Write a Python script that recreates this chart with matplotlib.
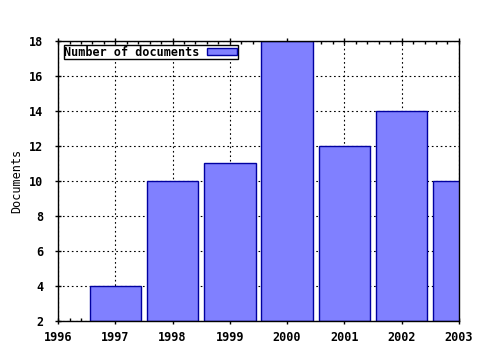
import matplotlib
matplotlib.use("Agg")
import matplotlib.pyplot as plt
from matplotlib.ticker import MultipleLocator

# data
years = [1997, 1998, 1999, 2000, 2001, 2002, 2003]
docs = [4, 10, 11, 18, 12, 14, 10]

plt.rcParams['font.family'] = 'DejaVu Sans Mono'
plt.rcParams['font.weight'] = 'bold'
plt.rcParams['font.size'] = 8.5

fig = plt.figure(figsize=(4.8, 3.5), dpi=100)
ax = fig.add_axes([0.121, 0.083, 0.835, 0.8])

ax.bar(years, [d - 2 for d in docs], bottom=2, width=0.9,
       color="#8080ff", edgecolor="#0000a0", linewidth=1.0,
       label="Number of documents", zorder=3)

ax.set_xlim(1996, 2003)
ax.set_ylim(2, 18)
ax.xaxis.set_major_locator(MultipleLocator(1))
ax.xaxis.set_minor_locator(MultipleLocator(0.2))
ax.yaxis.set_major_locator(MultipleLocator(2))
ax.tick_params(axis='x', which='major', direction='inout', length=5, width=1, top=True, pad=5)
ax.tick_params(axis='x', which='minor', direction='in', length=2.5, width=1, top=True)
ax.tick_params(axis='y', which='major', direction='inout', length=5, width=1, right=False, pad=8)
ax.grid(True, which='major', color='black', linestyle=(0, (1.5, 2.5)), linewidth=0.8, zorder=1)
for s in ax.spines.values():
    s.set_linewidth(1)
    s.set_zorder(5)

ax.set_ylabel("Documents", labelpad=4)

leg = ax.legend(loc='upper left', bbox_to_anchor=(0.008, 0.993), frameon=True, fancybox=False,
                framealpha=1, edgecolor='black', markerfirst=False,
                handlelength=2.6, handleheight=0.5, borderpad=0.05, borderaxespad=0.2,
                handletextpad=0.6)
leg.get_frame().set_linewidth(1)

fig.savefig("out.png", dpi=100)
